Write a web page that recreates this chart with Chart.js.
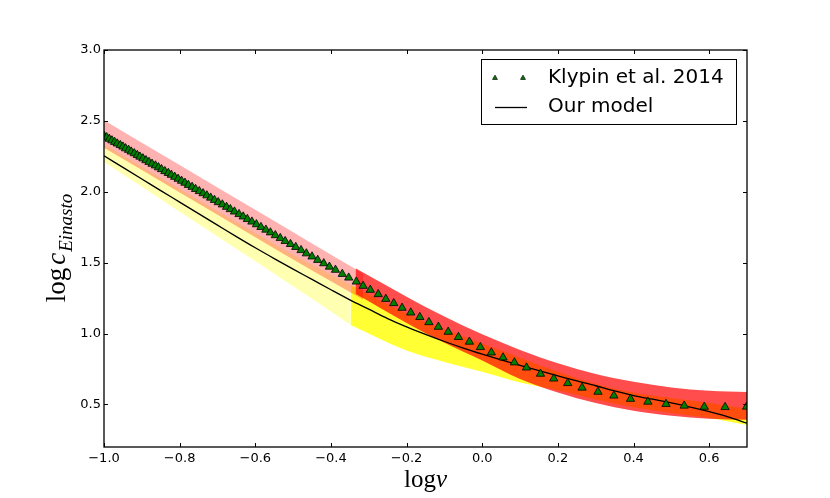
<!DOCTYPE html>
<html>
<head>
<meta charset="utf-8">
<script src="https://cdn.jsdelivr.net/npm/chart.js@4.4.1/dist/chart.umd.min.js"></script>
<style>
body{margin:0;background:#fff;}
#wrap{width:830px;height:498px;}
</style>
</head>
<body>
<div id="wrap"><canvas id="concChart" width="830" height="498"></canvas></div>
<script>
// c(nu) relation, Klypin et al. 2014 vs our model

const xTicks = [-1.0,-0.8,-0.6,-0.4,-0.2,0.0,0.2,0.4,0.6];
const yTicks = [0.5,1.0,1.5,2.0,2.5,3.0];

const klypinX = [
-1.000,-0.993,-0.986,-0.979,-0.972,-0.965,-0.957,-0.950,-0.943,-0.935,
-0.928,-0.920,-0.912,-0.905,-0.897,-0.889,-0.881,-0.873,-0.864,-0.856,
-0.848,-0.839,-0.830,-0.822,-0.813,-0.804,-0.795,-0.786,-0.777,-0.767,
-0.758,-0.748,-0.738,-0.728,-0.718,-0.708,-0.698,-0.687,-0.676,-0.666,
-0.655,-0.643,-0.632,-0.621,-0.609,-0.597,-0.585,-0.572,-0.560,-0.547,
-0.534,-0.521,-0.507,-0.493,-0.479,-0.465,-0.450,-0.435,-0.419,-0.404,
-0.388,-0.370,-0.353,-0.333,-0.315,-0.296,-0.275,-0.255,-0.234,-0.212,
-0.189,-0.165,-0.141,-0.116,-0.090,-0.063,-0.034,-0.005,0.024,0.055,
0.085,0.117,0.154,0.189,0.226,0.264,0.306,0.348,0.392,0.438,
0.486,0.534,0.587,0.642,0.699];
const klypinY = [
2.395,2.384,2.373,2.362,2.351,2.340,2.329,2.318,2.306,2.295,
2.283,2.271,2.259,2.247,2.235,2.222,2.210,2.197,2.185,2.172,
2.159,2.145,2.132,2.119,2.105,2.091,2.077,2.063,2.048,2.034,
2.019,2.004,1.989,1.974,1.958,1.942,1.926,1.910,1.893,1.877,
1.860,1.842,1.825,1.807,1.789,1.770,1.751,1.732,1.713,1.693,
1.673,1.652,1.631,1.610,1.588,1.565,1.543,1.519,1.495,1.471,
1.449,1.420,1.394,1.366,1.336,1.308,1.277,1.244,1.214,1.181,
1.148,1.116,1.080,1.047,1.012,0.975,0.942,0.904,0.866,0.831,
0.796,0.760,0.716,0.682,0.650,0.618,0.589,0.562,0.539,0.519,
0.503,0.491,0.483,0.481,0.484];

const modelX = [-1.0,-0.95,-0.9,-0.85,-0.8,-0.75,-0.7,-0.65,-0.6,-0.55,-0.5,-0.45,-0.4,-0.35,-0.3,-0.25,-0.2,-0.15,-0.1,-0.05,
0.0,0.05,0.1,0.15,0.2,0.25,0.3,0.35,0.4,0.45,0.5,0.55,0.6,0.65,0.7];
const modelY = [2.254,2.172,2.090,2.008,1.927,1.846,1.765,1.684,1.605,1.529,1.455,1.382,1.309,1.238,1.172,1.106,1.047,0.994,0.944,0.898,
0.855,0.814,0.775,0.738,0.702,0.666,0.632,0.595,0.563,0.537,0.511,0.482,0.450,0.413,0.368];

// light bands (x < -0.33)
const pinkX = [-1.0,-0.8,-0.6,-0.45,-0.315];
const pinkTop = [2.505,2.189,1.873,1.636,1.423];
const pinkBottom = [2.31,1.995,1.68,1.445,1.24];
const paleX = [-1.0,-0.8,-0.6,-0.45,-0.348];
const paleTop = [2.335,2.02,1.71,1.485,1.345];
const paleBottom = [2.21,1.86,1.51,1.245,1.06];

// strong bands (x > -0.35)
const redX = [-0.335,-0.2,-0.1,0.0,0.1,0.2,0.3,0.4,0.5,0.6,0.7];
const redTop = [1.46,1.26,1.12,0.995,0.885,0.79,0.715,0.66,0.62,0.597,0.588];
const redBottom = [1.28,1.075,0.935,0.81,0.68,0.585,0.51,0.455,0.42,0.40,0.392];
const yellowX = [-0.348,-0.2,-0.1,0.0,0.1,0.2,0.3,0.4,0.5,0.6,0.7];
const yellowTop = [1.345,1.14,1.03,0.93,0.83,0.73,0.645,0.585,0.545,0.51,0.47];
const yellowBottom = [1.06,0.88,0.80,0.73,0.655,0.60,0.535,0.48,0.44,0.405,0.355];

function pts(xs, ys){
return xs.map(function(x, i){ return {x: x, y: ys[i]}; });
}

function fmt(v){
return Number(v).toFixed(1).replace('-', '\u2212');
}

const datasets = [
{
label:'Klypin et al. 2014',
data:pts(klypinX, klypinY),
showLine:false,
pointStyle:'triangle',
pointRadius:4.8,
pointBackgroundColor:'#008000',
pointBorderColor:'#000',
pointBorderWidth:0.8,
order:0,
clip:0
},
{
label:'Our model',
data:pts(modelX, modelY),
borderColor:'#000',
borderWidth:1.3,
pointRadius:0,
cubicInterpolationMode:'monotone',
fill:false,
order:1,
clip:0
}
];

function addBand(xs, lo, hi, color, order){
const lowIndex = datasets.length;
datasets.push({
data:pts(xs, lo),
borderColor:'transparent',
borderWidth:0,
pointRadius:0,
cubicInterpolationMode:'monotone',
fill:false,
order:order,
clip:0
});
datasets.push({
data:pts(xs, hi),
borderColor:'transparent',
borderWidth:0,
pointRadius:0,
cubicInterpolationMode:'monotone',
backgroundColor:color,
fill:lowIndex,
order:order,
clip:0
});
}

addBand(redX, redBottom, redTop, 'rgba(255,0,0,0.7)', 2);
addBand(pinkX, pinkBottom, pinkTop, 'rgba(255,0,0,0.3)', 2);
addBand(yellowX, yellowBottom, yellowTop, 'rgba(255,255,0,0.8)', 3);
addBand(paleX, paleBottom, paleTop, 'rgba(255,255,0,0.3)', 3);

const decor = {
id:'decor',
afterDatasetsDraw(chart){
const ctx = chart.ctx;
const a = chart.chartArea;
const xs = chart.scales.x;
const ys = chart.scales.y;
ctx.save();
ctx.strokeStyle = '#000';
ctx.lineWidth = 1;
ctx.beginPath();
xTicks.forEach(function(v){
const px = Math.round(xs.getPixelForValue(v)) + 0.5;
ctx.moveTo(px, a.bottom); ctx.lineTo(px, a.bottom - 4);
ctx.moveTo(px, a.top); ctx.lineTo(px, a.top + 4);
});
yTicks.forEach(function(v){
const py = Math.round(ys.getPixelForValue(v)) + 0.5;
ctx.moveTo(a.left, py); ctx.lineTo(a.left + 4, py);
ctx.moveTo(a.right, py); ctx.lineTo(a.right - 4, py);
});
ctx.stroke();
ctx.lineWidth = 1.3;
ctx.strokeRect(a.left, a.top, a.right - a.left, a.bottom - a.top);

// legend
ctx.fillStyle = '#fff';
ctx.fillRect(481.5, 59.5, 255, 65);
ctx.lineWidth = 1;
ctx.strokeRect(481.5, 59.5, 255, 65);
[495, 523].forEach(function(cx){
const r = 2.8, cy = 78;
ctx.beginPath();
ctx.moveTo(cx, cy - r);
ctx.lineTo(cx + r * 0.866, cy + r / 2);
ctx.lineTo(cx - r * 0.866, cy + r / 2);
ctx.closePath();
ctx.fillStyle = '#008000';
ctx.fill();
ctx.lineWidth = 0.7;
ctx.stroke();
});
ctx.lineWidth = 1.3;
ctx.beginPath();
ctx.moveTo(495, 107.5); ctx.lineTo(527, 107.5);
ctx.stroke();
ctx.fillStyle = '#000';
ctx.font = '20px "DejaVu Sans"';
ctx.textBaseline = 'middle';
ctx.textAlign = 'left';
ctx.fillText('Klypin et al. 2014', 548, 78);
ctx.fillText('Our model', 548, 107);

// axis titles
ctx.textBaseline = 'alphabetic';
ctx.font = '25px "Liberation Serif"';
const w1 = ctx.measureText('log').width;
ctx.font = 'italic 25px "Liberation Serif"';
const w2 = ctx.measureText('\u03bd').width;
let sx = (a.left + a.right) / 2 - (w1 + w2) / 2;
ctx.font = '25px "Liberation Serif"';
ctx.fillText('log', sx, 487);
ctx.font = 'italic 25px "Liberation Serif"';
ctx.fillText('\u03bd', sx + w1, 487);

ctx.translate(65, (a.top + a.bottom) / 2);
ctx.rotate(-Math.PI / 2);
ctx.font = '27px "Liberation Serif"';
const l1 = ctx.measureText('log').width + 3;
ctx.font = 'italic 27px "Liberation Serif"';
const l2 = ctx.measureText('c').width;
ctx.font = 'italic 19px "Liberation Serif"';
const l3 = ctx.measureText('Einasto').width;
sx = -(l1 + l2 + l3) / 2;
ctx.font = '27px "Liberation Serif"';
ctx.fillText('log', sx, 0);
ctx.font = 'italic 27px "Liberation Serif"';
ctx.fillText('c', sx + l1, 0);
ctx.font = 'italic 19px "Liberation Serif"';
ctx.fillText('Einasto', sx + l1 + l2 + 1, 7);
ctx.restore();
}
};

const ctx = document.getElementById('concChart');

new Chart(ctx,{
type:'line',
data:{datasets:datasets},
options:{
responsive:false,
animation:false,
events:[],
layout:{padding:{left:0, top:50, right:83, bottom:0}},
plugins:{
legend:{display:false},
tooltip:{enabled:false}
},
scales:{
x:{
type:'linear',
min:-1.0,
max:0.7,
grid:{display:false, drawTicks:false},
border:{display:false},
afterBuildTicks:function(s){ s.ticks = xTicks.map(function(v){ return {value:v}; }); },
afterFit:function(s){ s.height = 51; },
ticks:{
color:'#000',
font:{family:'DejaVu Sans', size:13},
padding:4,
maxRotation:0,
autoSkip:false,
callback:function(v){ return fmt(v); }
}
},
y:{
type:'linear',
min:0.2,
max:3.0,
grid:{display:false, drawTicks:false},
border:{display:false},
afterBuildTicks:function(s){ s.ticks = yTicks.map(function(v){ return {value:v}; }); },
afterFit:function(s){ s.width = 104; },
ticks:{
color:'#000',
font:{family:'DejaVu Sans', size:13},
padding:3,
autoSkip:false,
callback:function(v){ return fmt(v); }
}
}
}
},
plugins:[decor]
});
</script>
</body>
</html>
